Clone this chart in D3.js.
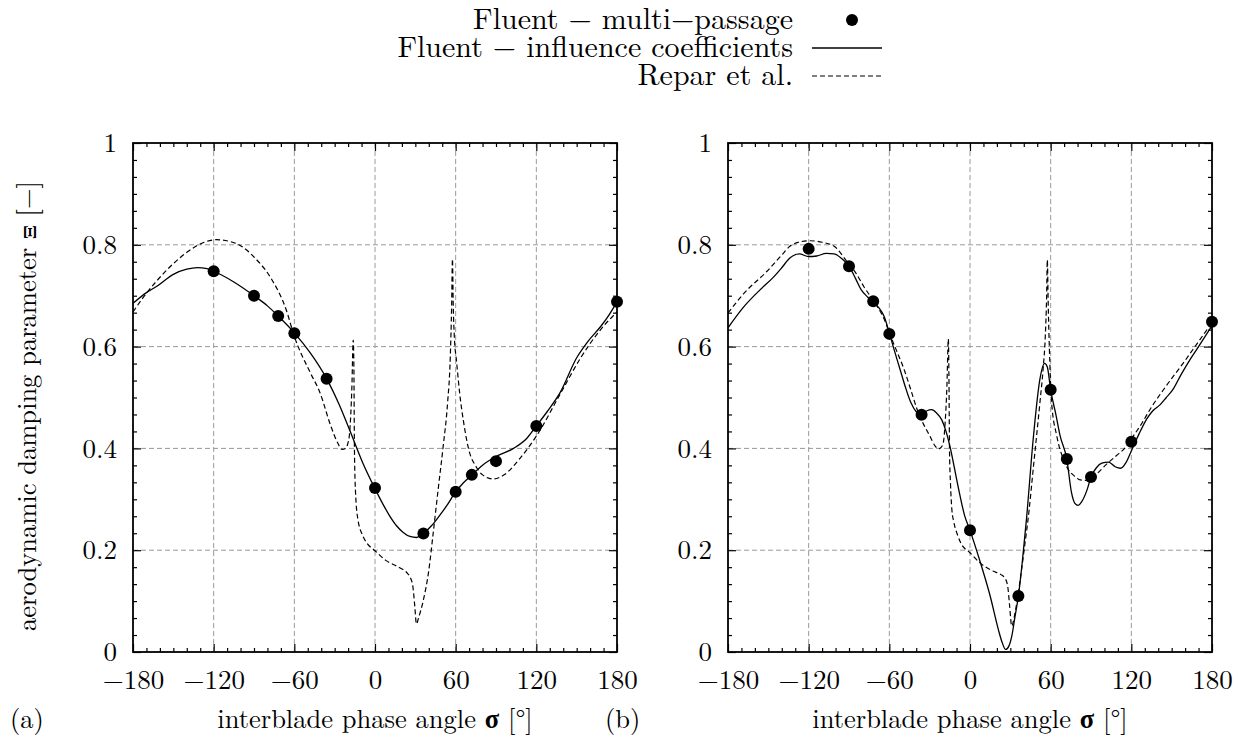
<!DOCTYPE html>
<html>
<head>
<meta charset="utf-8">
<script src="https://cdn.jsdelivr.net/npm/d3@7"></script>
</head>
<body style="margin:0;background:#fff">
<div id="chart"></div>
<script>
// ---- data ----
var xTicks = [-180, -120, -60, 0, 60, 120, 180];
var yTicks = [0, 0.2, 0.4, 0.6, 0.8, 1];

// multi-passage results (same phase angles in both panels)
var dotSigma = [-120, -90, -72, -60, -36, 0, 36, 60, 72, 90, 120, 180];
var dotsA = [0.748, 0.700, 0.660, 0.626, 0.537, 0.322, 0.233, 0.315, 0.348, 0.375, 0.444, 0.688];
var dotsB = [0.792, 0.758, 0.689, 0.625, 0.466, 0.239, 0.110, 0.515, 0.379, 0.344, 0.413, 0.649];

// influence coefficients, panel (a)
var solidA = [[-180,0.685],[-170,0.706],[-162,0.719],[-150,0.742],[-140,0.752],[-132,0.755],[-125,0.753],
  [-120,0.748],[-105,0.727],[-90,0.700],[-80,0.680],[-72,0.660],[-60,0.627],[-48,0.587],[-36,0.537],
  [-27,0.488],[-19,0.437],[-9,0.371],[0,0.321],[6,0.290],[11,0.267],[16,0.248],[21,0.235],[26,0.227],
  [31,0.225],[36,0.233],[42,0.248],[48,0.268],[54,0.290],[60,0.315],[66,0.333],[72,0.348],[80,0.367],
  [90,0.384],[103,0.400],[113,0.420],[120,0.444],[128,0.472],[138,0.511],[150,0.578],[158,0.609],
  [168,0.640],[174,0.662],[180,0.688]];

// Repar et al., panel (a)
var dashA = [[-180,0.668],[-172,0.698],[-163,0.727],[-150,0.763],[-138,0.789],[-128,0.804],[-118,0.810],
  [-106,0.805],[-98,0.795],[-90,0.776],[-78,0.737],[-66,0.672],[-60,0.620],[-48,0.548],[-41,0.510],
  [-33,0.445],[-28,0.412],[-24.5,0.398],[-22,0.400],[-20,0.412],[-18.9,0.430],[-17.2,0.520],[-16.2,0.613],
  [-15.7,0.560],[-15.3,0.400],[-14.5,0.315],[-12.8,0.262],[-9,0.228],[-6,0.214],[0,0.199],[8,0.180],
  [18,0.166],[24,0.155],[26.5,0.145],[28.2,0.128],[29.6,0.090],[30.8,0.055],[32.5,0.068],[35.8,0.100],
  [40,0.160],[43.3,0.234],[47,0.320],[50.7,0.404],[54,0.490],[56,0.580],[57,0.680],[57.6,0.772],
  [58.2,0.680],[59,0.620],[60.7,0.570],[63,0.508],[66,0.450],[70,0.395],[75,0.365],[80,0.348],
  [88,0.340],[96,0.348],[108,0.381],[120,0.424],[138,0.508],[153,0.578],[168,0.634],[180,0.668]];

// influence coefficients, panel (b)
var solidB = [[-180,0.637],[-168,0.679],[-156,0.712],[-146,0.737],[-140,0.755],[-134,0.774],[-127,0.782],
  [-120,0.777],[-114,0.778],[-107,0.783],[-101,0.782],[-95,0.772],[-90,0.758],[-85,0.733],[-81,0.712],
  [-76,0.697],[-72,0.687],[-68,0.677],[-64,0.660],[-60,0.627],[-56,0.590],[-52,0.555],[-48,0.520],
  [-44,0.490],[-40,0.472],[-36,0.466],[-32,0.474],[-28.5,0.476],[-25,0.470],[-21,0.456],[-18,0.435],
  [-15,0.405],[-9,0.327],[-4,0.268],[0,0.239],[7,0.182],[15,0.110],[21,0.045],[24,0.018],[26.5,0.005],
  [29,0.012],[31,0.030],[33.5,0.070],[36,0.110],[39,0.180],[42,0.261],[47,0.418],[52,0.536],[55.5,0.567],
  [57.5,0.560],[60,0.515],[64,0.465],[67,0.425],[72,0.379],[75.5,0.313],[78,0.292],[80.5,0.288],
  [83,0.295],[87,0.318],[90,0.344],[94,0.362],[98,0.371],[103,0.373],[108,0.364],[112,0.361],
  [116,0.372],[120,0.395],[126,0.430],[131.5,0.458],[136,0.474],[141.5,0.486],[146,0.500],[151,0.516],
  [157,0.545],[164,0.576],[170,0.600],[180,0.641]];

// Repar et al., panel (b)
var dashB = [[-180,0.666],[-168,0.705],[-151,0.748],[-140,0.780],[-134,0.797],[-126,0.806],[-119,0.808],
  [-110,0.805],[-101,0.797],[-91.5,0.767],[-85,0.745],[-79,0.718],[-69,0.679],[-64,0.655],[-59,0.620],
  [-54,0.588],[-49,0.555],[-44,0.515],[-39.5,0.478],[-35,0.450],[-30,0.425],[-26,0.405],[-23.6,0.399],
  [-21.5,0.402],[-19.8,0.412],[-18.5,0.450],[-17.2,0.520],[-16.1,0.615],[-15.7,0.550],[-15.2,0.390],
  [-14.5,0.330],[-13.5,0.280],[-12,0.255],[-9,0.228],[-7,0.215],[0,0.195],[7,0.176],[17,0.159],
  [23,0.152],[26,0.145],[28,0.130],[29.5,0.090],[31,0.051],[33,0.070],[35,0.100],[40,0.195],
  [44,0.280],[47,0.359],[52,0.490],[54.5,0.560],[56,0.620],[57,0.700],[57.5,0.770],[58.2,0.680],
  [59,0.600],[60.7,0.490],[64.5,0.425],[69.4,0.379],[73,0.359],[78,0.345],[82,0.338],[88,0.337],
  [95,0.352],[102,0.370],[109,0.386],[115,0.400],[121.7,0.425],[128,0.450],[134,0.477],[146,0.523],
  [159,0.569],[170,0.610],[180,0.647]];

var legendLabels = ["Fluent \u2212 multi\u2212passage", "Fluent \u2212 influence coefficients", "Repar et al."];

// ---- layout ----
var W = 1245, H = 742;
var FONT = "'Latin Modern Roman', 'Liberation Serif', serif";
var svg = d3.select("#chart").append("svg")
  .attr("width", W)
  .attr("height", H)
  .style("font-family", FONT);

var tickFs = 27, titleFs = 26.5, legendFs = 30;
var yRange = [652, 143];

function drawPanel(x0, x1, solid, dashed, dots, tag) {
  var x = d3.scaleLinear().domain([-180, 180]).range([x0, x1]);
  var y = d3.scaleLinear().domain([0, 1]).range(yRange);
  var g = svg.append("g");

  // grid
  g.append("g").selectAll("line")
    .data(xTicks.slice(1, -1))
    .enter().append("line")
      .attr("x1", function(d) { return x(d); })
      .attr("x2", function(d) { return x(d); })
      .attr("y1", yRange[0]).attr("y2", yRange[1])
      .style("stroke", "#999").style("stroke-width", 1).style("stroke-dasharray", "5,3");
  g.append("g").selectAll("line")
    .data(yTicks.slice(1, -1))
    .enter().append("line")
      .attr("x1", x0).attr("x2", x1)
      .attr("y1", function(d) { return y(d); })
      .attr("y2", function(d) { return y(d); })
      .style("stroke", "#999").style("stroke-width", 1).style("stroke-dasharray", "5,3");

  // minor ticks, all four sides, inward
  var xMinor = d3.range(-170, 180, 10).filter(function(d) { return d % 60 !== 0; });
  var yMinor = d3.range(1, 30).filter(function(d) { return d % 6 !== 0; }).map(function(d) { return d / 30; });

  g.append("g").attr("transform", "translate(0," + yRange[0] + ")")
    .call(d3.axisBottom(x).tickValues(xMinor).tickSize(-4).tickFormat(""));
  g.append("g").attr("transform", "translate(0," + yRange[1] + ")")
    .call(d3.axisTop(x).tickValues(xMinor).tickSize(-4).tickFormat(""));
  g.append("g").attr("transform", "translate(" + x0 + ",0)")
    .call(d3.axisLeft(y).tickValues(yMinor).tickSize(-4).tickFormat(""));
  g.append("g").attr("transform", "translate(" + x1 + ",0)")
    .call(d3.axisRight(y).tickValues(yMinor).tickSize(-4).tickFormat(""));

  // major ticks with labels
  var xb = g.append("g").attr("transform", "translate(0," + yRange[0] + ")")
    .call(d3.axisBottom(x).tickValues(xTicks).tickSize(-8).tickPadding(16));
  xb.selectAll("text").attr("y", 37).attr("dy", 0);
  g.append("g").attr("transform", "translate(0," + yRange[1] + ")")
    .call(d3.axisTop(x).tickValues(xTicks).tickSize(-8).tickFormat(""));
  g.append("g").attr("transform", "translate(" + x0 + ",0)")
    .call(d3.axisLeft(y).tickValues(yTicks).tickSize(-8).tickPadding(16).tickFormat(d3.format("~g")));
  g.append("g").attr("transform", "translate(" + x1 + ",0)")
    .call(d3.axisRight(y).tickValues(yTicks).tickSize(-8).tickFormat(""));

  g.selectAll(".domain").remove();
  g.selectAll("g").attr("font-family", null).attr("font-size", null);
  g.selectAll(".tick line").style("stroke", "#000").style("stroke-width", 1.2);
  g.selectAll(".tick text")
    .style("font-family", FONT).style("font-size", tickFs + "px").style("fill", "#000");

  // curves
  var line = d3.line()
    .x(function(d) { return x(d[0]); })
    .y(function(d) { return y(d[1]); })
    .curve(d3.curveMonotoneX);

  g.append("path").datum(dashed)
    .attr("d", line)
    .style("fill", "none").style("stroke", "#000")
    .style("stroke-width", 1.2).style("stroke-dasharray", "5,3");
  g.append("path").datum(solid)
    .attr("d", line)
    .style("fill", "none").style("stroke", "#000")
    .style("stroke-width", 1.3);

  g.selectAll("circle")
    .data(dots)
    .enter().append("circle")
      .attr("cx", function(d, i) { return x(dotSigma[i]); })
      .attr("cy", function(d) { return y(d); })
      .attr("r", 6)
      .style("fill", "#000");

  // frame
  g.append("rect")
    .attr("x", x0).attr("y", yRange[1])
    .attr("width", x1 - x0).attr("height", yRange[0] - yRange[1])
    .style("fill", "none").style("stroke", "#000").style("stroke-width", 1.8);

  // x title
  var t = g.append("text")
    .attr("x", (x0 + x1) / 2).attr("y", 728)
    .attr("text-anchor", "middle")
    .style("font-size", titleFs + "px");
  t.append("tspan").text("interblade phase angle ");
  t.append("tspan").style("font-weight", "bold").text("\u03c3");
  t.append("tspan").text(" [\u00b0]");

  g.append("text")
    .attr("x", x0 - 123).attr("y", 728)
    .style("font-size", titleFs + "px")
    .text(tag);
}

drawPanel(133, 617, solidA, dashA, dotsA, "(a)");
drawPanel(728, 1212, solidB, dashB, dotsB, "(b)");

// y title
var yt = svg.append("text")
  .attr("transform", "translate(36,406) rotate(-90)")
  .attr("text-anchor", "middle")
  .style("font-size", titleFs + "px");
yt.append("tspan").text("aerodynamic damping parameter ");
yt.append("tspan").style("font-weight", "bold").style("font-size", "18px").text("\u039e");
yt.append("tspan").text(" [\u2212]");

// legend
var lg = svg.append("g");
var rows = [20, 48, 76];
lg.selectAll("text")
  .data(legendLabels)
  .enter().append("text")
    .attr("x", 793)
    .attr("y", function(d, i) { return rows[i] + 9; })
    .attr("text-anchor", "end")
    .style("font-size", legendFs + "px")
    .text(function(d) { return d; });
lg.append("circle").attr("cx", 852).attr("cy", rows[0]).attr("r", 6).style("fill", "#000");
lg.append("line").attr("x1", 812).attr("x2", 882).attr("y1", rows[1]).attr("y2", rows[1])
  .style("stroke", "#000").style("stroke-width", 1.3);
lg.append("line").attr("x1", 812).attr("x2", 882).attr("y1", rows[2]).attr("y2", rows[2])
  .style("stroke", "#000").style("stroke-width", 1.2).style("stroke-dasharray", "5,3");
</script>
</body>
</html>
